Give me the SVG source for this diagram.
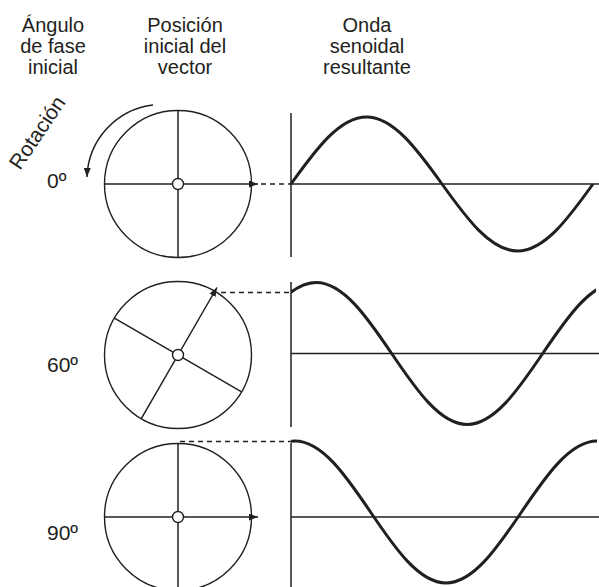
<svg xmlns="http://www.w3.org/2000/svg" width="599" height="587" viewBox="0 0 599 587">
<style>
text{font-family:"Liberation Sans",Arial,Helvetica,sans-serif;font-size:21px;fill:#231f20}
.hd{text-anchor:middle;font-size:20px}
.c{fill:none;stroke:#231f20;stroke-width:1.4}
.hub{fill:#fff;stroke:#231f20;stroke-width:1.4}
.ln{stroke:#231f20;stroke-width:1.5;fill:none}
.ds{stroke:#231f20;stroke-width:1.5;stroke-dasharray:5 4;fill:none}
.w{stroke:#231f20;stroke-width:3;fill:none}
</style>
<defs>
<marker id="ah" viewBox="0 0 9 7" refX="9" refY="3.5" markerWidth="9" markerHeight="7" markerUnits="userSpaceOnUse" orient="auto">
<path d="M0,0 L9,3.5 L0,7 z" fill="#231f20"/>
</marker>
<clipPath id="cl2"><rect x="291" y="270" width="305" height="170"/></clipPath>
<clipPath id="cl3"><rect x="291" y="430" width="308" height="160"/></clipPath>
</defs>
<rect width="599" height="587" fill="#fff"/>
<g id="headers">
<text class="hd" x="53" y="31.5">Ángulo</text>
<text class="hd" x="53" y="52.5">de fase</text>
<text class="hd" x="53" y="73.5">inicial</text>
<text class="hd" x="185" y="31.5">Posición</text>
<text class="hd" x="185" y="52.5">inicial del</text>
<text class="hd" x="185" y="73.5">vector</text>
<text class="hd" x="367" y="31.5">Onda</text>
<text class="hd" x="367" y="52.5">senoidal</text>
<text class="hd" x="367" y="73.5">resultante</text>
</g>
<g id="rotation">
<text x="20" y="171" transform="rotate(-56 20 171)">Rotación</text>
<path class="ln" d="M153,105 A75,75 0 0 0 87,177" marker-end="url(#ah)"/>
</g>
<g id="labels">
<text x="47" y="188">0º</text>
<text x="47" y="372">60º</text>
<text x="47" y="540">90º</text>
</g>
<g id="phasor0">
<circle class="c" cx="178" cy="184" r="73.5"/>
<line class="ln" x1="178" y1="110.5" x2="178" y2="257.5"/>
<line class="ln" x1="104.5" y1="184" x2="258" y2="184" marker-end="url(#ah)"/>
<circle class="hub" cx="178" cy="184" r="5.5"/>
</g>
<g id="phasor60">
<circle class="c" cx="178" cy="355" r="73.5"/>
<line class="ln" x1="114.4" y1="318.2" x2="241.6" y2="391.8"/>
<line class="ln" x1="141.3" y1="418.7" x2="217" y2="287.5" marker-end="url(#ah)"/>
<circle class="hub" cx="178" cy="355" r="5.5"/>
</g>
<g id="phasor90">
<circle class="c" cx="178" cy="517" r="73.5"/>
<line class="ln" x1="178" y1="443.5" x2="178" y2="590"/>
<line class="ln" x1="104.5" y1="517" x2="258" y2="517" marker-end="url(#ah)"/>
<circle class="hub" cx="178" cy="517" r="5.5"/>
</g>
<g id="wave0">
<line class="ln" x1="291" y1="113" x2="291" y2="257"/>
<line class="ln" x1="291" y1="184" x2="599" y2="184"/>
<path class="w" d="M291,184 c24.6,-34.3 48.5,-67 75.5,-67 c27,0 50.9,32.7 75.5,67 c24.6,34.3 48.5,67 75.5,67 c27,0 50.9,-32.7 75.5,-67"/>
</g>
<g id="wave60">
<line class="ln" x1="291" y1="282" x2="291" y2="427"/>
<line class="ln" x1="291" y1="353.5" x2="599" y2="353.5"/>
<path class="w" clip-path="url(#cl2)" d="M240.67,353.5 c24.6,-36.4 48.5,-71 75.5,-71 c27,0 50.9,34.6 75.5,71 c24.6,36.4 48.5,71 75.5,71 c27,0 50.9,-34.6 75.5,-71 c24.6,-36.4 48.5,-71 75.5,-71"/>
</g>
<g id="wave90">
<line class="ln" x1="291" y1="443" x2="291" y2="590"/>
<line class="ln" x1="291" y1="517" x2="599" y2="517"/>
<path class="w" clip-path="url(#cl3)" d="M219.5,512 c24.6,-36.4 48.5,-71 75.5,-71 c27,0 50.9,34.6 75.5,71 c24.6,36.4 48.5,71 75.5,71 c27,0 50.9,-34.6 75.5,-71 c24.6,-36.4 48.5,-71 75.5,-71"/>
</g>
<g id="connectors">
<line class="ds" x1="261" y1="184" x2="291" y2="184"/>
<line class="ds" x1="221" y1="292.5" x2="291" y2="292.5"/>
<line class="ds" x1="180" y1="441.5" x2="291" y2="441.5"/>
</g>
</svg>
